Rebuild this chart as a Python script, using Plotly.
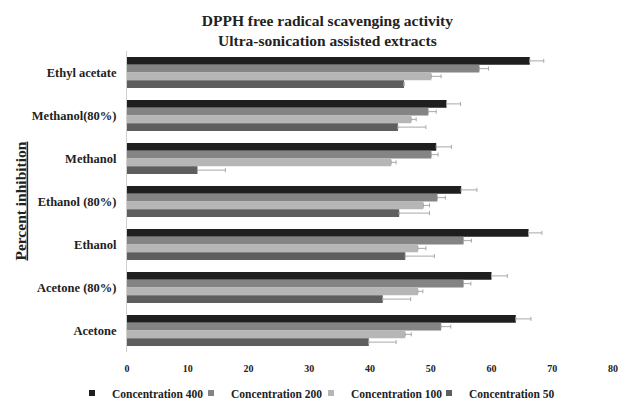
import plotly.graph_objects as go

# Solvent extracts, listed top to bottom
solvents = ["Ethyl acetate", "Methanol(80%)", "Methanol", "Ethanol (80%)",
            "Ethanol", "Acetone (80%)", "Acetone"]

# Percent inhibition per concentration (same order as solvents)
conc_400 = [66.3, 52.6, 50.9, 55.0, 66.1, 60.0, 64.0]
conc_200 = [58.0, 49.6, 50.1, 51.1, 55.4, 55.4, 51.7]
conc_100 = [50.1, 46.8, 43.5, 48.8, 47.9, 47.9, 45.8]
conc_50 = [45.6, 44.6, 11.6, 44.8, 45.8, 42.1, 39.8]

# Standard deviations (upper whiskers)
err_400 = [2.3, 2.3, 2.5, 2.6, 2.2, 2.6, 2.5]
err_200 = [1.5, 1.3, 1.1, 1.3, 1.3, 1.2, 1.6]
err_100 = [1.6, 0.8, 0.8, 1.0, 1.3, 0.8, 1.0]
err_50 = [0.0, 4.6, 4.6, 5.0, 4.8, 4.6, 4.5]

series = [
    ("Concentration 400", conc_400, err_400, "#1f1f1f"),
    ("Concentration 200", conc_200, err_200, "#848484"),
    ("Concentration 100", conc_100, err_100, "#b6b6b6"),
    ("Concentration 50", conc_50, err_50, "#5e5e5e"),
]

x_ticks = [0, 10, 20, 30, 40, 50, 60, 70, 80]

SERIF = "Liberation Serif, Times New Roman, serif"
INK = "#222222"

fig = go.Figure()
for name, vals, errs, color in series:
    fig.add_trace(go.Bar(
        y=solvents, x=vals, name=name, orientation="h", showlegend=False,
        marker=dict(color=color, line=dict(width=0)),
        error_x=dict(type="data", array=errs, symmetric=False,
                     arrayminus=[0] * len(errs),
                     color="#a8a8a8", thickness=1, width=2),
    ))

# One small legend per series, laid out in a single row under the axis
legend_ids = ["legend", "legend2", "legend3", "legend4"]
legend_left = [72, 191, 311, 429]
legend_layout = {}
for (name, vals, errs, color), lid, left in zip(series, legend_ids, legend_left):
    fig.add_trace(go.Scatter(
        x=[None], y=[None], mode="markers", name=name, legend=lid,
        marker=dict(symbol="square", size=6, color=color),
    ))
    legend_layout[lid] = dict(
        orientation="h", xref="container", yref="container",
        x=left / 620, xanchor="left", y=1 - 393 / 402, yanchor="middle",
        font=dict(family=SERIF, size=11.5, color=INK, weight="bold"),
        itemwidth=30, bgcolor="rgba(0,0,0,0)",
    )

fig.update_layout(
    width=620, height=402,
    margin=dict(l=127, r=7, t=51, b=50, autoexpand=False),
    paper_bgcolor="white", plot_bgcolor="white",
    barmode="group", bargap=0.28, bargroupgap=0,
    font=dict(family=SERIF, color=INK),
    title=dict(
        text="<b>DPPH free radical scavenging activity<br>Ultra-sonication assisted extracts</b>",
        x=0.528, xanchor="center", y=0.936, yanchor="middle",
        font=dict(family=SERIF, size=15.5, color=INK),
    ),
    xaxis=dict(range=[0, 80], tickvals=x_ticks, showgrid=False, zeroline=False,
               showline=False, ticks="", ticklabelstandoff=9,
               tickfont=dict(family=SERIF, size=10, color=INK, weight="bold")),
    yaxis=dict(autorange="reversed", showgrid=False, zeroline=False,
               showline=True, linecolor="#d0d0d0", linewidth=1, ticks="",
               ticklabelstandoff=7,
               tickfont=dict(family=SERIF, size=12.5, color=INK, weight="bold")),
    showlegend=True,
    **legend_layout,
)

fig.add_annotation(
    text="<b><u>Percent inhibition</u></b>", textangle=-90,
    xref="paper", yref="paper", x=-0.22, y=0.5, xanchor="center", yanchor="middle",
    showarrow=False, font=dict(family=SERIF, size=15.5, color=INK),
)

fig.write_html("out.html")
